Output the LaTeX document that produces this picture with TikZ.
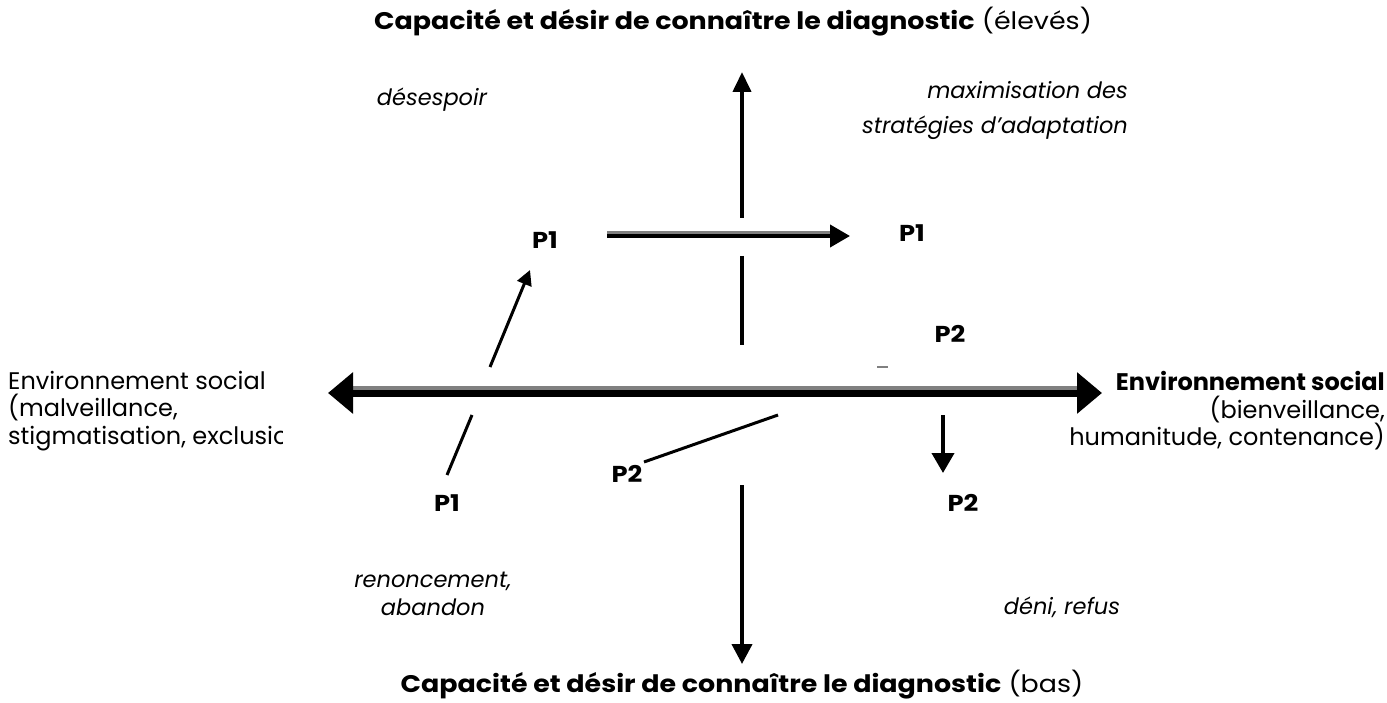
\documentclass[tikz,border=0pt]{standalone}
\usepackage{fontspec}
\setmainfont{Poppins}
\newfontfamily\largepop{Poppins}[FakeStretch=1.12]
\usetikzlibrary{arrows.meta}

\tikzset{
  txt/.style={font=\fontsize{24}{27.5}\selectfont, inner sep=0pt},
  ttl/.style={font=\largepop\fontsize{24}{28}\selectfont, inner sep=0pt},
  itx/.style={font=\fontsize{22.5}{28}\selectfont\itshape, inner sep=0pt},
  pp/.style={font=\largepop\fontsize{23}{24}\selectfont\bfseries, inner sep=0pt},
  axe/.style={line width=7pt},
  gris/.style={gray, line width=5pt},
  fleche/.style={line width=4pt},
  fine/.style={line width=4pt},
  trait/.style={line width=3pt}
}

\begin{document}
\begin{tikzpicture}[x=1pt,y=-1pt]
  \useasboundingbox (0,0) rectangle (1387,703);

  % titres des axes
  \node[ttl] (haut) at (733,22) {\textbf{Capacité et désir de connaître le diagnostic} (élevés)};
  \node[ttl] (bas) at (742,685) {\textbf{Capacité et désir de connaître le diagnostic} (bas)};
  \begin{scope}
    \clip (0,360) rectangle (282,460);
    \node[txt, align=left, anchor=west] (gauche) at (8,411) {Environnement social\\(malveillance,\\stigmatisation, exclusion)};
  \end{scope}
  \node[txt, align=right, anchor=east] (droite) at (1385,411) {\textbf{Environnement social}\\(bienveillance,\\humanitude, contenance)};

  % quadrants
  \node[itx] (desespoir) at (432,100) {désespoir};
  \node[itx, align=right, anchor=east, font=\fontsize{22.5}{35}\selectfont\itshape] (maxim) at (1128,110) {maximisation des\\stratégies d’adaptation};
  \node[itx, align=center] (renonc) at (433,594) {renoncement,\\abandon};
  \node[itx] (deni) at (1062,607) {déni, refus};

  % positions
  \node[pp] (p1a) at (545,240) {P1};
  \node[pp] (p1b) at (912,233) {P1};
  \node[pp] (p1c) at (447,503) {P1};
  \node[pp] (p2a) at (950,334) {P2};
  \node[pp] (p2b) at (627,474) {P2};
  \node[pp] (p2c) at (963,503) {P2};

  % axe vertical
  \coordinate (vh) at (742,72);
  \coordinate (vh1) at (742,218);
  \coordinate (vm0) at (742,256);
  \coordinate (vm1) at (742,345);
  \coordinate (vb0) at (742,485);
  \coordinate (vb) at (742,664);
  \draw[fine,-{Triangle[length=20pt,width=18pt]}] (vh1) -- (vh);
  \draw[fine] (vm0) -- (vm1);
  \draw[fine,-{Triangle[length=20pt,width=20pt]}] (vb0) -- (vb);

  % axe horizontal
  \coordinate (hg) at (328,393);
  \coordinate (hd) at (1102,393);
  \draw[gris, shorten <=22pt, shorten >=22pt] ([yshift=5pt]hg) -- ([yshift=5pt]hd);
  \draw[axe,{Triangle[length=25pt,width=40pt]}-{Triangle[length=25pt,width=40pt]}] (hg) -- (hd);

  % trajectoires
  \coordinate (t1) at (607,236);
  \coordinate (t2) at (850,236);
  \draw[gris, line width=3pt, shorten >=18pt] ([yshift=3pt]t1) -- ([yshift=3pt]t2);
  \draw[fleche,-{Triangle[length=20pt,width=22pt]}] (t1) -- (t2);

  \coordinate (s0) at (447,475);
  \coordinate (s1) at (472,415);
  \coordinate (s2) at (490,367);
  \coordinate (s3) at (530,270);
  \draw[trait] (s0) -- (s1);
  \draw[trait,-{Triangle[length=15pt,width=15pt]}] (s2) -- (s3);

  \coordinate (r0) at (644,462);
  \coordinate (r1) at (778,415);
  \draw[trait] (r0) -- (r1);

  \coordinate (d0) at (943,415);
  \coordinate (d1) at (943,473);
  \draw[fine,-{Triangle[length=20pt,width=22pt]}] (d0) -- (d1);

  \draw[gray, line width=1.5pt] (877,367) -- (888,367);
\end{tikzpicture}
\end{document}
